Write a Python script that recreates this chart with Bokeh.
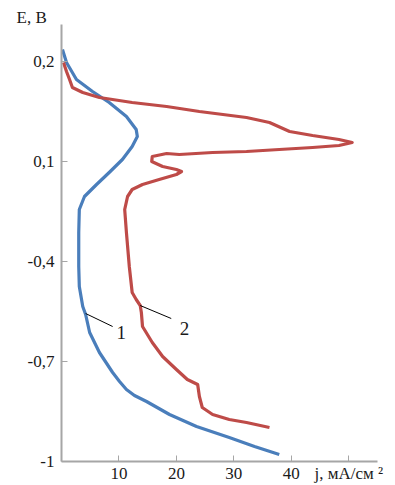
from bokeh.plotting import figure
from bokeh.models import FixedTicker, Range1d, Title
from bokeh.embed import file_html
from bokeh.resources import INLINE

# Curve 1 (blue): current density j (mA/cm2) vs potential E (V, axis position)
j1 = [0.17, 0.87, 2.6, 5.4, 8.3, 11.3, 13.0, 13.2, 12.3, 10.6, 8.3, 6.1, 4.0, 3.1, 3.0,
      3.0, 3.1, 3.7, 4.2, 4.9, 6.6, 8.9, 10.1, 11.3, 12.7, 14.8, 18.8, 23.5, 29.2, 33.6, 37.9]
E1 = [0.236, 0.197, 0.146, 0.110, 0.077, 0.035, -0.004, -0.025, -0.055, -0.094, -0.133,
      -0.169, -0.205, -0.244, -0.313, -0.415, -0.475, -0.535, -0.559, -0.613, -0.673,
      -0.733, -0.760, -0.784, -0.802, -0.820, -0.859, -0.895, -0.928, -0.955, -0.979]

# Curve 2 (red)
j2 = [0.35, 0.87, 1.4, 1.9, 3.7, 6.6, 12.3, 18.3, 24.0, 32.2, 36.2, 39.7, 43.7, 48.3,
      50.6, 48.3, 43.7, 37.9, 32.2, 26.3, 20.5, 18.3, 15.8, 15.7, 17.6, 20.0, 20.9, 20.0,
      17.0, 14.1, 12.3, 11.5, 11.0, 11.3, 11.8, 12.3, 13.0, 13.7, 13.9, 14.1, 15.8, 17.6,
      20.0, 21.9, 23.7, 24.0, 24.5, 26.3, 29.2, 32.2, 36.2]
E2 = [0.197, 0.170, 0.146, 0.122, 0.107, 0.092, 0.077, 0.065, 0.050, 0.032, 0.017, -0.010,
      -0.022, -0.034, -0.043, -0.052, -0.058, -0.064, -0.070, -0.073, -0.079, -0.076,
      -0.085, -0.100, -0.115, -0.124, -0.130, -0.139, -0.154, -0.169, -0.184, -0.205,
      -0.244, -0.313, -0.415, -0.493, -0.514, -0.532, -0.553, -0.595, -0.643, -0.685,
      -0.724, -0.754, -0.769, -0.805, -0.838, -0.859, -0.874, -0.883, -0.898]

# Axis ticks and labels (the last x tick carries the axis unit label)
x_ticks = [10, 20, 30, 40, 50]
x_labels = ["10", "20", "30", "40", "j, мА/см ²"]
y_ticks = [0.2, -0.1, -0.4, -0.7, -1.0]
y_labels = ["0,2", "0,1", "-0,4", "-0,7", "-1"]
y_title = "E, B"

# Curve markers (leader lines and numbers)
lead1_x = [4.2, 8.9]
lead1_y = [-0.556, -0.595]
lead2_x = [13.7, 19.1]
lead2_y = [-0.532, -0.571]
num_labels = ["1", "2"]
num_x = [10.4, 21.4]
num_y = [-0.613, -0.600]

BLUE = "#4a7ebb"
RED = "#be4b48"
AXIS = "#a6a6a6"
FONT = "Liberation Serif"

p = figure(frame_width=316, frame_height=437, output_backend="svg", toolbar_location=None,
           x_range=Range1d(0, 55), y_range=Range1d(-1.0, 0.311),
           min_border_left=61, min_border_top=19, min_border_right=10, min_border_bottom=20,
           margin=(5, 0, 0, 0))
p.outline_line_color = None
p.xgrid.visible = False
p.ygrid.visible = False

for ax in (p.xaxis, p.yaxis):
    ax.axis_line_color = AXIS
    ax.axis_line_width = 2
    ax.major_tick_line_color = AXIS
    ax.major_tick_line_width = 1
    ax.major_tick_in = 6
    ax.major_tick_out = 0
    ax.minor_tick_line_color = None
    ax.major_label_text_font = FONT
    ax.major_label_text_font_size = "17px"
    ax.major_label_text_color = "#1a1a1a"

p.xaxis.ticker = FixedTicker(ticks=x_ticks)
p.xaxis.major_label_overrides = {t: l for t, l in zip(x_ticks, x_labels)}
p.xaxis.major_label_standoff = 2
p.yaxis.ticker = FixedTicker(ticks=y_ticks)
p.yaxis.major_label_overrides = {t: l for t, l in zip(y_ticks, y_labels)}
p.yaxis.major_label_standoff = 7

p.add_layout(Title(text=y_title, align="left", offset=-45, standoff=-5, text_font=FONT,
                   text_font_size="17px", text_font_style="normal", text_color="#1a1a1a"),
             "above")

p.line(j1, E1, line_color=BLUE, line_width=3.2, line_join="round")
p.line(j2, E2, line_color=RED, line_width=3.2, line_join="round")

p.line(lead1_x, lead1_y, line_color="black", line_width=1)
p.line(lead2_x, lead2_y, line_color="black", line_width=1)
p.text(num_x, num_y, text=num_labels, text_font={"value": FONT}, text_font_size="19px",
       text_align="center", text_baseline="middle", text_color="#1a1a1a")

open("out.html", "w").write(file_html(p, INLINE))
